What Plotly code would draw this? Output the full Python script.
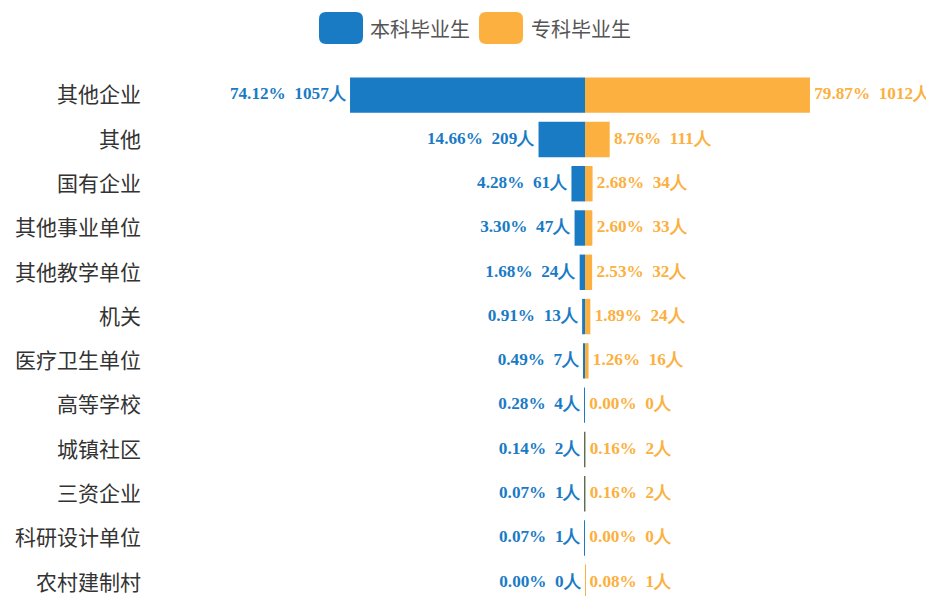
import plotly.graph_objects as go

categories = ["其他企业", "其他", "国有企业", "其他事业单位", "其他教学单位", "机关",
              "医疗卫生单位", "高等学校", "城镇社区", "三资企业", "科研设计单位", "农村建制村"]
bk_pct = [74.12, 14.66, 4.28, 3.30, 1.68, 0.91, 0.49, 0.28, 0.14, 0.07, 0.07, 0.00]
bk_cnt = [1057, 209, 61, 47, 24, 13, 7, 4, 2, 1, 1, 0]
zk_pct = [79.87, 8.76, 2.68, 2.60, 2.53, 1.89, 1.26, 0.00, 0.16, 0.16, 0.00, 0.08]
zk_cnt = [1012, 111, 34, 33, 32, 24, 16, 0, 2, 2, 0, 1]
series_names = ["本科毕业生", "专科毕业生"]

BLUE = "#1a7bc5"
ORANGE = "#fbb040"
OFF = 8  # page body margin
W, H = 934 - OFF, 596 - OFF
ML, MR, MT, MB = 146 - OFF, 0, 73 - OFF, 0
PW, PH = W - ML - MR, H - MT - MB

NB = "\u00a0"
bk_text = [f"{p:.2f}%{NB}{NB}{c}人{NB}" for p, c in zip(bk_pct, bk_cnt)]
zk_text = [f"{NB}{p:.2f}%{NB}{NB}{c}人" for p, c in zip(zk_pct, zk_cnt)]

tfont = dict(family="Liberation Serif, Times New Roman, serif", size=17.2, weight="bold")

# x scale: center at reference pixel 585, 0.2223 px per person
scale = 0.2223
center_px = 585 - OFF
xmin = -(center_px - ML) / scale
xmax = (W - MR - center_px) / scale

bk_x = [-c for c in bk_cnt]

fig = go.Figure()
fig.add_trace(go.Bar(
    y=categories, x=bk_x, orientation="h", name=series_names[0],
    marker=dict(color=BLUE, line=dict(width=0)), showlegend=False,
))
fig.add_trace(go.Bar(
    y=categories, x=zk_cnt, orientation="h", name=series_names[1],
    marker=dict(color=ORANGE, line=dict(width=0)), showlegend=False,
))
fig.add_trace(go.Scatter(
    y=categories, x=bk_x, mode="text", text=bk_text, textposition="middle left",
    textfont=dict(color=BLUE, **tfont), cliponaxis=False, showlegend=False, hoverinfo="skip",
))
fig.add_trace(go.Scatter(
    y=categories, x=zk_cnt, mode="text", text=zk_text, textposition="middle right",
    textfont=dict(color=ORANGE, **tfont), cliponaxis=False, showlegend=False, hoverinfo="skip",
))


def px2paper_x(px):
    return (px - OFF - ML) / PW


def px2paper_y(py):
    return (H - MB - (py - OFF)) / PH


def rounded_rect(x0, y0, x1, y1, r):
    X = px2paper_x
    Y = px2paper_y
    return (f"M {X(x0 + r)} {Y(y0)} L {X(x1 - r)} {Y(y0)} Q {X(x1)} {Y(y0)} {X(x1)} {Y(y0 + r)} "
            f"L {X(x1)} {Y(y1 - r)} Q {X(x1)} {Y(y1)} {X(x1 - r)} {Y(y1)} "
            f"L {X(x0 + r)} {Y(y1)} Q {X(x0)} {Y(y1)} {X(x0)} {Y(y1 - r)} "
            f"L {X(x0)} {Y(y0 + r)} Q {X(x0)} {Y(y0)} {X(x0 + r)} {Y(y0)} Z")


shapes = []
annotations = []
legend_items = [(319, 363, 368, BLUE, series_names[0]), (479, 523, 529, ORANGE, series_names[1])]
for x0, x1, tx, col, name in legend_items:
    shapes.append(dict(type="path", xref="paper", yref="paper", path=rounded_rect(x0, 12, x1, 44, 7),
                       fillcolor=col, line=dict(width=0), layer="above"))
    annotations.append(dict(xref="paper", yref="paper", x=px2paper_x(tx), y=px2paper_y(28),
                            xanchor="left", yanchor="middle", showarrow=False, text=name,
                            font=dict(family="Noto Sans CJK SC", size=20, color="#555555")))

fig.update_layout(
    width=W, height=H,
    margin=dict(l=ML, r=MR, t=MT, b=MB),
    paper_bgcolor="white", plot_bgcolor="white",
    barmode="relative", bargap=0.2,
    xaxis=dict(range=[xmin, xmax], showgrid=False, zeroline=False, showticklabels=False,
               showline=False, fixedrange=True),
    yaxis=dict(range=[11.31, -0.5], showgrid=False, zeroline=False, showline=False, ticks="",
               tickfont=dict(family="Noto Sans CJK SC", size=21, color="#333333"),
               ticklabelstandoff=4, fixedrange=True),
    shapes=shapes, annotations=annotations,
)

fig.write_html(
    "out.html",
    post_script="document.documentElement.style.overflow='hidden';document.body.style.overflow='hidden';",
)
